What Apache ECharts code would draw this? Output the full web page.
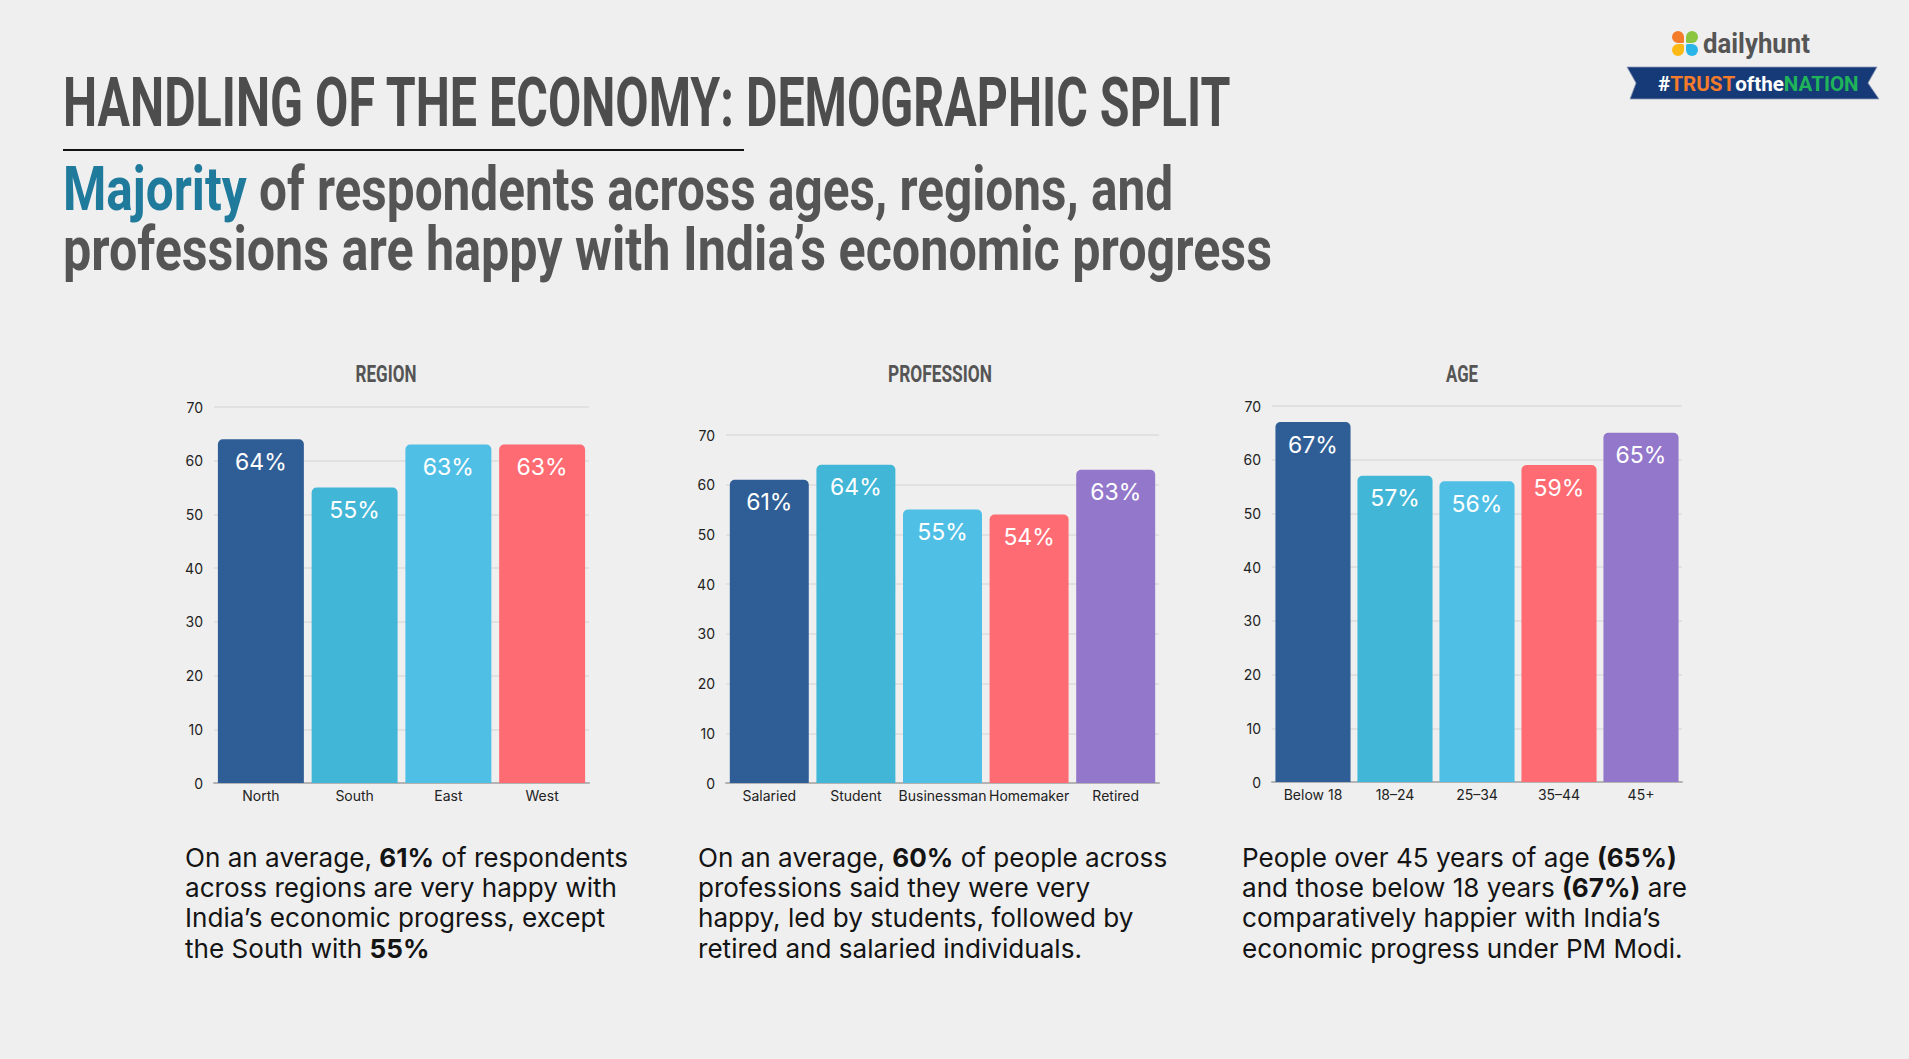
<!DOCTYPE html>
<html>
<head>
<meta charset="utf-8">
<script src="https://cdn.jsdelivr.net/npm/echarts@6/dist/echarts.min.js"></script>
<style>
html,body{margin:0;padding:0;background:#efefef;}
#c{width:1909px;height:1059px;}
</style>
</head>
<body>
<div id="c"></div>
<script>
// ---------------- DATA ----------------
const regionCats = ['North', 'South', 'East', 'West'];
const regionVals = [64, 55, 63, 63];
const professionCats = ['Salaried', 'Student', 'Businessman', 'Homemaker', 'Retired'];
const professionVals = [61, 64, 55, 54, 63];
const ageCats = ['Below 18', '18–24', '25–34', '35–44', '45+'];
const ageVals = [67, 57, 56, 59, 65];
const yMin = 0, yMax = 70, yStep = 10;
const panelTitles = ['REGION', 'PROFESSION', 'AGE'];

// ---------------- STYLE ----------------
const palette4 = ['#2e5e95', '#41b6d6', '#50bfe6', '#ff6b73'];
const palette5 = ['#2e5e95', '#41b6d6', '#50bfe6', '#ff6b73', '#9377cb'];
const BG = '#efefef';
const GRAY = '#555555';

const ctx = document.createElement('canvas').getContext('2d');
function tw(str, font) { ctx.font = font; return ctx.measureText(str).width; }

// condensed-looking bold text: fit to a target width with scaleX
function fitText(text, x, y, fs, targetW, fill, align, rich, plain) {
  const font = '700 ' + fs + 'px Roboto';
  const w = tw(plain || text, font);
  const el = {
    type: 'text', x: x, y: y, scaleX: targetW / w, z: 10,
    style: {
      text: text, fill: fill, fontFamily: 'Roboto', fontWeight: 700, fontSize: fs,
      textAlign: align || 'left', textVerticalAlign: 'middle'
    }
  };
  if (rich) el.style.rich = rich;
  return el;
}

const grids = [
  { left: 214, top: 407, width: 375, height: 376 },
  { left: 726, top: 435, width: 433, height: 348 },
  { left: 1272, top: 406, width: 410, height: 376 }
];
const gaps = ['8.3%', '8.8%', '8.4%'];
const sets = [
  { cats: regionCats, vals: regionVals, colors: palette4 },
  { cats: professionCats, vals: professionVals, colors: palette5 },
  { cats: ageCats, vals: ageVals, colors: palette5 }
];

const xAxes = [], yAxes = [], series = [];
sets.forEach(function (s, i) {
  xAxes.push({
    type: 'category', gridIndex: i, data: s.cats,
    axisLine: { lineStyle: { color: '#b3b3b3', width: 2 } },
    axisTick: { show: false },
    axisLabel: { color: '#222', fontSize: 14, fontFamily: 'Inter', margin: 5, interval: 0 }
  });
  yAxes.push({
    type: 'value', gridIndex: i, min: yMin, max: yMax, interval: yStep,
    axisLine: { show: false }, axisTick: { show: false },
    axisLabel: { color: '#222', fontSize: 14, fontFamily: 'Inter', margin: 11 },
    splitLine: { lineStyle: { color: '#dcdcdc', width: 1.5 } }
  });
  series.push({
    type: 'bar', xAxisIndex: i, yAxisIndex: i,
    barCategoryGap: gaps[i],
    data: s.vals.map(function (v, k) { return { value: v, itemStyle: { color: s.colors[k] } }; }),
    itemStyle: { borderRadius: [5, 5, 0, 0] },
    label: {
      show: true, position: 'insideTop', distance: 11, color: '#fff',
      fontSize: 23, fontFamily: 'Inter', formatter: '{c}%'
    }
  });
});

// ---------------- TEXT / GRAPHICS ----------------
const graphics = [];
// Main title
graphics.push(fitText('HANDLING OF THE ECONOMY: DEMOGRAPHIC SPLIT', 63, 103, 69, 1168, '#4d4d4d'));
graphics.push({ type: 'line', shape: { x1: 63, y1: 150, x2: 744, y2: 150 }, style: { stroke: '#111', lineWidth: 2 } });
// Subtitle
const subRich = fs => ({
  a: { fill: '#1f7a9c', fontFamily: 'Roboto', fontWeight: 700, fontSize: fs },
  b: { fill: GRAY, fontFamily: 'Roboto', fontWeight: 700, fontSize: fs }
});
const sub1 = 'Majority of respondents across ages, regions, and';
const sub2 = 'professions are happy with India’s economic progress';
graphics.push(fitText('{a|Majority}{b| of respondents across ages, regions, and}', 63, 189, 61, 1111, GRAY, 'left', subRich(61), sub1));
graphics.push(fitText('{b|' + sub2 + '}', 63, 249, 61, 1210, GRAY, 'left', subRich(61), sub2));

// Panel titles
const ptX = [386, 940, 1462], ptW = [61, 104, 32];
panelTitles.forEach(function (t, i) {
  graphics.push(fitText(t, ptX[i], 374, 24, ptW[i], GRAY, 'center'));
});

// Body paragraphs
const paragraphs = [
  { x: 185, lines: [['On an average, ', '*61%', ' of respondents'], ['across regions are very happy with'], ['India’s economic progress, except'], ['the South with ', '*55%']] },
  { x: 698, lines: [['On an average, ', '*60%', ' of people across'], ['professions said they were very'], ['happy, led by students, followed by'], ['retired and salaried individuals.']] },
  { x: 1242, lines: [['People over 45 years of age ', '*(65%)'], ['and those below 18 years ', '*(67%)', ' are'], ['comparatively happier with India’s'], ['economic progress under PM Modi.']] }
];
function lineWidth(segs, fs) {
  return segs.reduce(function (a, s) {
    return a + (s[0] === '*' ? tw(s.slice(1), '700 ' + fs + 'px Inter') : tw(s, '400 ' + fs + 'px Inter'));
  }, 0);
}
const bodyFs = Math.round(22 * 443 / lineWidth(paragraphs[0].lines[0], 22) * 10) / 10;
const LH = 30.4;
paragraphs.forEach(function (p) {
  const text = p.lines.map(function (segs) {
    return segs.map(function (s) { return s[0] === '*' ? '{b|' + s.slice(1) + '}' : '{n|' + s + '}'; }).join('');
  }).join('\n');
  graphics.push({
    type: 'text', x: p.x, y: 857 - LH / 2, z: 10,
    style: {
      text: text, textAlign: 'left', textVerticalAlign: 'top',
      rich: {
        n: { fill: '#141414', fontFamily: 'Inter', fontWeight: 400, fontSize: bodyFs, lineHeight: LH },
        b: { fill: '#141414', fontFamily: 'Inter', fontWeight: 700, fontSize: bodyFs, lineHeight: LH }
      }
    }
  });
});

// Logo: petals
const petals = [
  { cx: 1678, cy: 37, c: '#f47b2a', r: [6, 6, 1.5, 6] },
  { cx: 1692, cy: 37, c: '#8cc640', r: [6, 6, 6, 1.5] },
  { cx: 1678, cy: 50, c: '#fdb913', r: [6, 1.5, 6, 6] },
  { cx: 1692, cy: 50, c: '#29b5e8', r: [1.5, 6, 6, 6] }
];
petals.forEach(function (p) {
  graphics.push({ type: 'rect', shape: { x: p.cx - 6, y: p.cy - 6, width: 12, height: 12, r: p.r }, style: { fill: p.c }, z: 10 });
});
graphics.push(fitText('dailyhunt', 1703, 44, 27, 107, '#555'));
// ribbon
graphics.push({
  type: 'polygon', z: 9,
  shape: { points: [[1627, 67], [1877, 67], [1868, 83], [1879, 99], [1630, 99], [1636, 83]] },
  style: { fill: '#163a78', stroke: '#8e9cb8', lineWidth: 0.8 }
});
const rf = 20;
const ribRich = {
  w: { fill: '#ffffff', fontFamily: 'Roboto', fontWeight: 700, fontSize: rf },
  o: { fill: '#f47b2a', fontFamily: 'Roboto', fontWeight: 700, fontSize: rf },
  g: { fill: '#1fb45a', fontFamily: 'Roboto', fontWeight: 700, fontSize: rf }
};
graphics.push(fitText('{w|#}{o|TRUST}{w|ofthe}{g|NATION}', 1658, 84, rf, 199, '#fff', 'left', ribRich, '#TRUSToftheNATION'));

// ---------------- CHART ----------------
const chart = echarts.init(document.getElementById('c'), null, { renderer: 'svg' });
chart.setOption({
  backgroundColor: BG,
  animation: false,
  grid: grids.map(function (g) { return Object.assign({ containLabel: false }, g); }),
  xAxis: xAxes,
  yAxis: yAxes,
  series: series,
  graphic: graphics
});
</script>
</body>
</html>
